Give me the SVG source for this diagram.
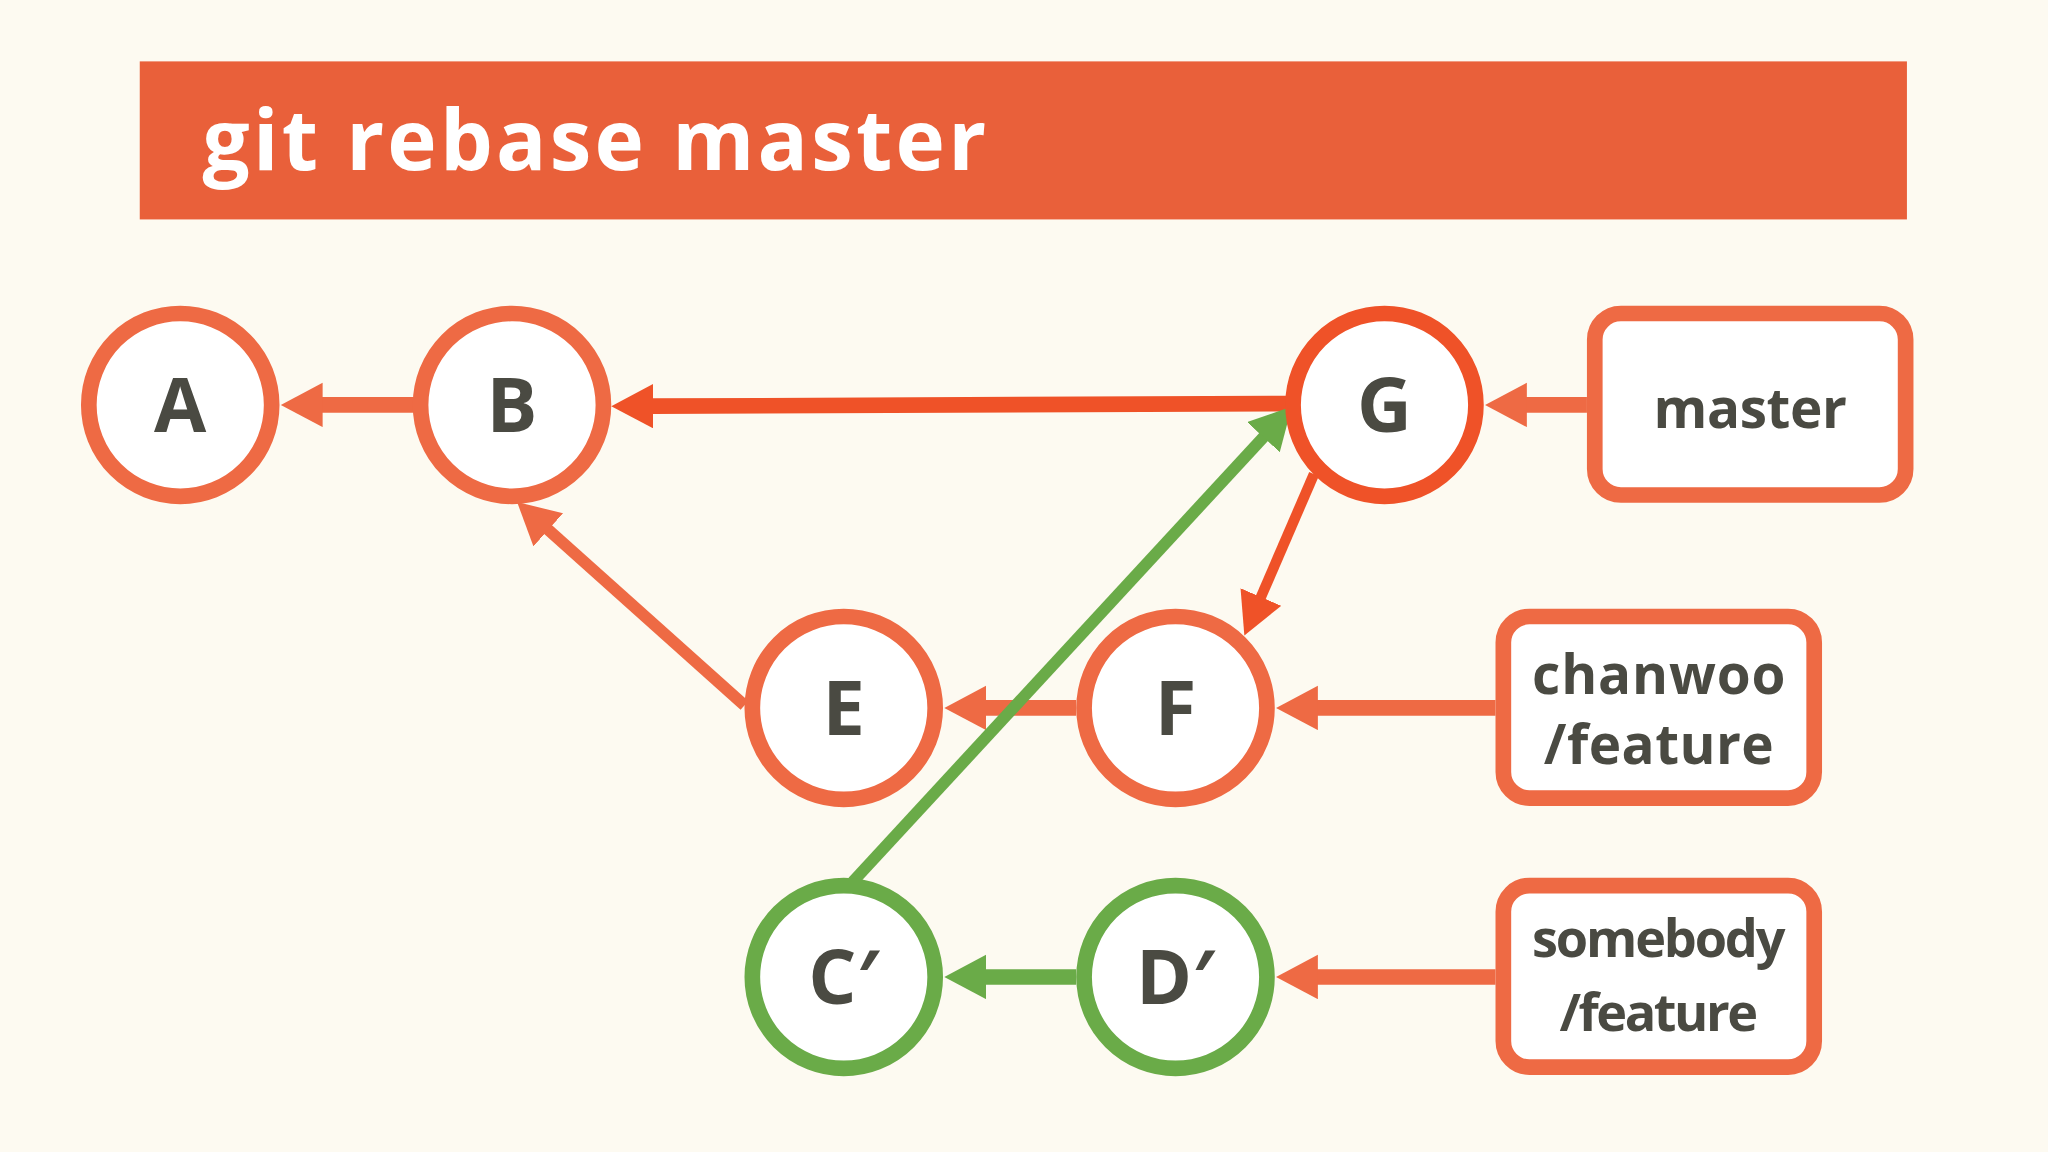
<svg xmlns="http://www.w3.org/2000/svg" width="2048" height="1152" viewBox="0 0 2048 1152">
<defs>
<style>
.n{fill:#fff;stroke:#ee6a44;stroke-width:12}
.g{stroke:#6aab48}
.t{font-family:"Open Sans","Noto Sans",sans-serif;font-weight:bold;fill:#4a4a42;text-anchor:middle}
.c{fill:none;stroke:#ee6a44;stroke-width:12}
.b{fill:#fff;stroke:#ee6a44;stroke-width:12}
</style>
<marker id="ao" markerUnits="userSpaceOnUse" markerWidth="40" markerHeight="40" refX="1" refY="17" orient="auto"><path d="M0,0 L32,17 L0,34 z" fill="#ee6a44"/></marker>
<marker id="ar" markerUnits="userSpaceOnUse" markerWidth="40" markerHeight="40" refX="1" refY="17" orient="auto"><path d="M0,0 L32,17 L0,34 z" fill="#ef5228"/></marker>
<marker id="ag" markerUnits="userSpaceOnUse" markerWidth="40" markerHeight="40" refX="1" refY="17" orient="auto"><path d="M0,0 L32,17 L0,34 z" fill="#6aab48"/></marker>
</defs>
<rect width="2048" height="1152" fill="#fdfaf1"/>
<g transform="scale(1.30612)">
<g id="title"><rect x="107" y="47" width="1353" height="121" fill="#e9603a"/>
<text x="155" y="130" font-family="Open Sans,Noto Sans,sans-serif" font-weight="bold" font-size="64" fill="#fff" textLength="600" lengthAdjust="spacing">git rebase master</text></g>
<g id="connectors">
<line class="c" x1="318" y1="310" x2="246" y2="310" marker-end="url(#ao)"/>
<line class="c" x1="986" y1="309" x2="499" y2="311" style="stroke:#ef5228" marker-end="url(#ar)"/>
<line class="c" x1="1215" y1="310" x2="1168" y2="310" marker-end="url(#ao)"/>
<line class="c" x1="824" y1="542" x2="754" y2="542" marker-end="url(#ao)"/>
<line class="c" x1="1145" y1="542" x2="1008" y2="542" marker-end="url(#ao)"/>
<line class="c" x1="1145" y1="748" x2="1008" y2="748" marker-end="url(#ao)"/>
<line class="c" x1="570" y1="540" x2="419" y2="405" style="stroke-width:9" marker-end="url(#ao)"/>
<line class="c" x1="1006" y1="363" x2="965" y2="458" style="stroke:#ef5228;stroke-width:8" marker-end="url(#ar)"/>
<line class="c" x1="824" y1="748" x2="754" y2="748" style="stroke:#6aab48" marker-end="url(#ag)"/>
<line class="c" x1="653" y1="675" x2="968" y2="334" style="stroke:#6aab48;stroke-width:9" marker-end="url(#ag)"/>
</g>
<g id="A"><circle class="n" cx="138" cy="310" r="70"/><text class="t" x="138" y="331" font-size="58">A</text></g>
<g id="B"><circle class="n" cx="392" cy="310" r="70"/><text class="t" x="392" y="331" font-size="58">B</text></g>
<g id="G"><circle class="n" cx="1060" cy="310" r="70" style="stroke:#ef5228"/><text class="t" x="1060" y="331" font-size="58">G</text></g>
<g id="E"><circle class="n" cx="646" cy="542" r="70"/><text class="t" x="646" y="563" font-size="58">E</text></g>
<g id="F"><circle class="n" cx="900" cy="542" r="70"/><text class="t" x="900" y="563" font-size="58">F</text></g>
<g id="C2"><circle class="n g" cx="646" cy="748" r="70"/><text class="t" x="646" y="769" font-size="58">C′</text></g>
<g id="D2"><circle class="n g" cx="900" cy="748" r="70"/><text class="t" x="900" y="769" font-size="58">D′</text></g>
<g id="master"><rect class="b" x="1221" y="240" width="238" height="139" rx="20"/><text class="t" x="1340" y="328" font-size="42" textLength="148" lengthAdjust="spacing">master</text></g>
<g id="chanwoo"><rect class="b" x="1151" y="472" width="238" height="139" rx="20"/><text class="t" x="1270" y="531" font-size="42" textLength="194" lengthAdjust="spacing">chanwoo</text><text class="t" x="1270" y="585" font-size="42" textLength="176" lengthAdjust="spacing">/feature</text></g>
<g id="somebody"><rect class="b" x="1151" y="678" width="238" height="139" rx="20"/><text class="t" x="1270" y="733" font-size="40" textLength="194" lengthAdjust="spacing">somebody</text><text class="t" x="1270" y="789" font-size="40" textLength="152" lengthAdjust="spacing">/feature</text></g>
</g>
</svg>
